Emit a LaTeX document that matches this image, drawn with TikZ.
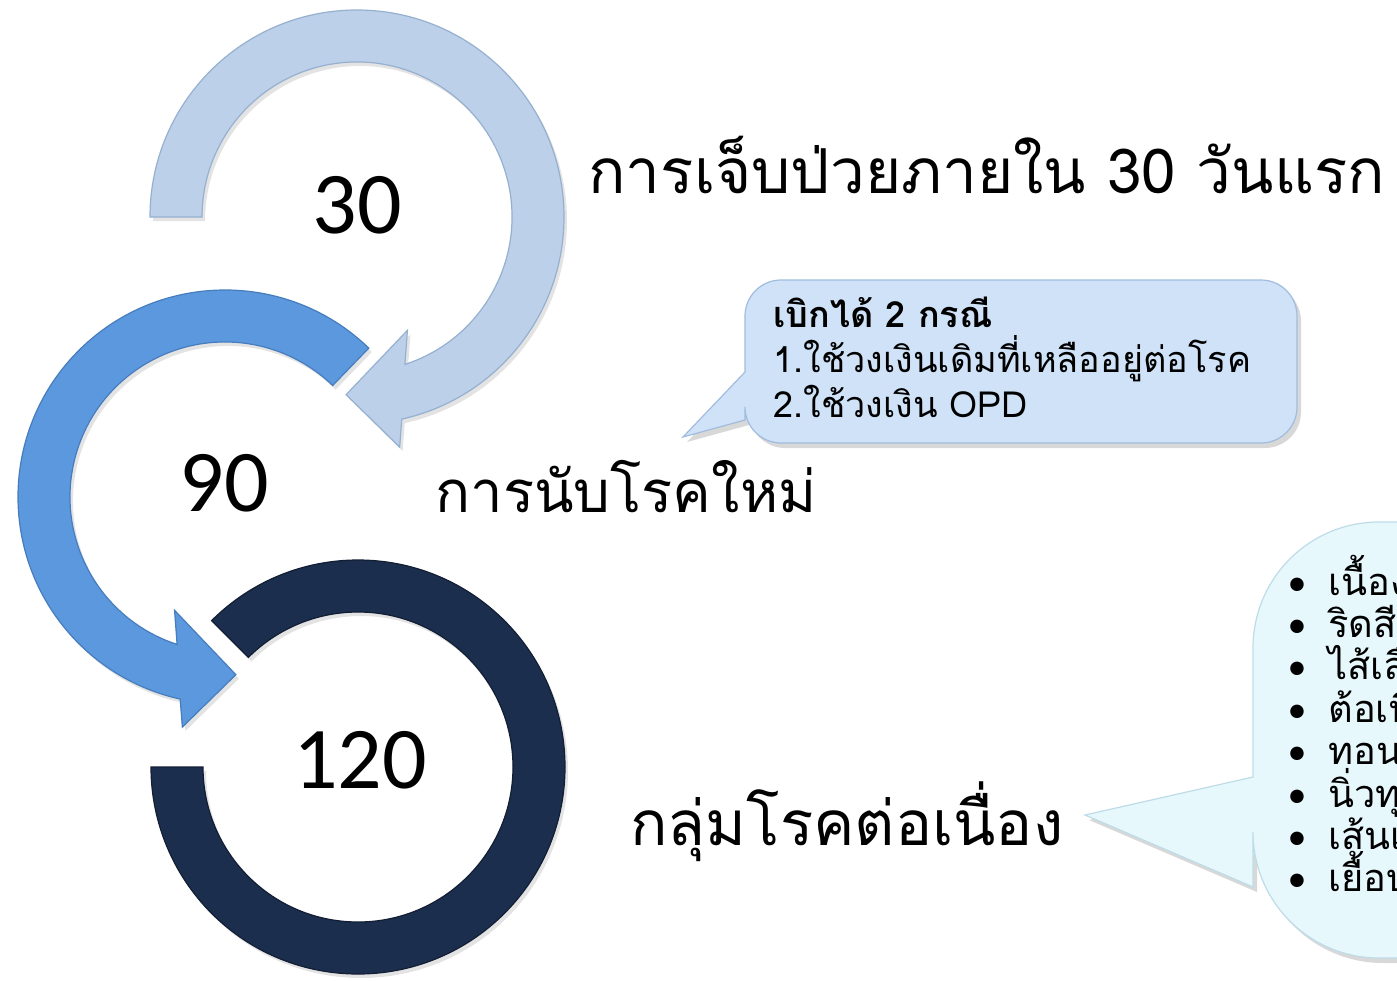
\documentclass[tikz,border=0pt]{standalone}
\usepackage{fontspec}
\setmainfont{Carlito}
\newfontfamily\thai[Script=Thai]{Loma}
\usetikzlibrary{shadows,calc}
\definecolor{ringA}{RGB}{188,208,233}
\definecolor{ringAe}{RGB}{150,176,208}
\definecolor{ringB}{RGB}{92,152,221}
\definecolor{ringBe}{RGB}{70,125,190}
\definecolor{ringC}{RGB}{28,46,77}
\definecolor{ringCe}{RGB}{18,30,52}
\definecolor{callA}{RGB}{207,226,247}
\definecolor{callAe}{RGB}{160,188,222}
\definecolor{callB}{RGB}{231,248,253}
\definecolor{callBe}{RGB}{190,220,232}
\begin{document}
\begin{tikzpicture}[x=0.5pt,y=0.5pt,
  ringshadow/.style={drop shadow={opacity=0.22,shadow xshift=1.5pt,shadow yshift=-2pt}},
  num/.style={font=\fontsize{44}{50}\selectfont,inner sep=0pt},
  biglabel/.style={font=\thai\fontsize{31}{36}\selectfont,anchor=base west,inner sep=0pt},
  calltext/.style={font=\thai\fontsize{18}{22}\selectfont,anchor=base west,inner sep=0pt},
  bullettext/.style={font=\thai\fontsize{19}{23}\selectfont,anchor=base west,inner sep=0pt},
  bulletmark/.style={font=\fontsize{19}{23}\selectfont,anchor=base,inner sep=0pt}]
\useasboundingbox (0,0) rectangle (1397,-980);
\clip (0,0) rectangle (1397,-980);
\fill[white] (0,0) rectangle (1397,-980);

\coordinate (c1) at (357,-217);
\coordinate (c2) at (225,-497);
\coordinate (c3) at (358,-767);

% ring 3 (120)
\path[fill=ringC,draw=ringCe,line width=0.6pt,ringshadow]
  ($(c3)+(135:207)$) arc[start angle=135,end angle=-180,radius=207]
  -- ($(c3)+(180:155)$) arc[start angle=-180,end angle=135,radius=155] -- cycle;

% ring 2 (90)
\path[fill=ringB,draw=ringBe,line width=0.6pt,ringshadow]
  ($(c2)+(46:207)$) arc[start angle=46,end angle=257.5,radius=207]
  -- ($(c2)+(259.5:234)$) -- ($(c2)+(273.5:178)$) -- ($(c2)+(246:124)$)
  -- ($(c2)+(252:155)$) arc[start angle=252,end angle=46,radius=155] -- cycle;

% ring 1 (30)
\path[fill=ringA,draw=ringAe,line width=0.6pt,ringshadow]
  ($(c1)+(180:207)$) arc[start angle=180,end angle=-77.5,radius=207]
  -- ($(c1)+(-79.5:234)$) -- ($(c1)+(-93.5:178)$) -- ($(c1)+(-66:124)$)
  -- ($(c1)+(-72:155)$) arc[start angle=-72,end angle=180,radius=155] -- cycle;

\node[num] (n30) at (357,-205) {30};
\node[num] (n90) at (224,-483) {90};
\node[num] (n120) at (360,-760) {120};

\node[biglabel] (l30) at (588,-193) {การเจ็บป่วยภายใน 30 วันแรก};
\node[biglabel,font=\thai\fontsize{29}{34}\selectfont] (l90) at (435,-512) {การนับโรคใหม่};
\node[biglabel] (l120) at (630,-845) {กลุ่มโรคต่อเนื่อง};

% callout 1
\path[fill=callA,draw=callAe,line width=0.6pt,drop shadow={opacity=0.3,shadow xshift=2pt,shadow yshift=-2.5pt}]
  (745,-372) [rounded corners=18] -- (745,-280) -- (1297,-280) -- (1297,-443) -- (745,-443)
  [sharp corners] -- (745,-420) -- (683,-437) -- cycle;
\node[calltext,font=\thai\bfseries\fontsize{18}{22}\selectfont] (cA1) at (773,-327) {เบิกได้ 2 กรณี};
\node[calltext] (cA2) at (773,-372) {1.ใช้วงเงินเดิมที่เหลืออยู่ต่อโรค};
\node[calltext] (cA3) at (773,-417) {2.ใช้วงเงิน OPD};

% callout 2
\path[fill=callB,draw=callBe,line width=0.6pt,drop shadow={opacity=0.3,shadow xshift=2pt,shadow yshift=-2.5pt}]
  (1253,-777) [rounded corners=63] -- (1253,-522) -- (1700,-522) -- (1700,-958) -- (1253,-958)
  [sharp corners] -- (1253,-887) -- (1085,-815) -- cycle;

\foreach \i/\t in {0/เนื้องอก,1/ริดสีดวงทวาร,2/ไส้เลื่อนทุกชนิด,3/ต้อเนื้อ,4/ทอนซิล,5/นิ่วทุกชนิด,6/เส้นเลือดขอด,7/เยื้อบุโพรงมดลูก}{
  \node[bulletmark] (bm\i) at (1297,{-595-42.4*\i}) {•};
  \node[bullettext] (bt\i) at (1328,{-595-42.4*\i}) {\t};
}
\end{tikzpicture}
\end{document}
